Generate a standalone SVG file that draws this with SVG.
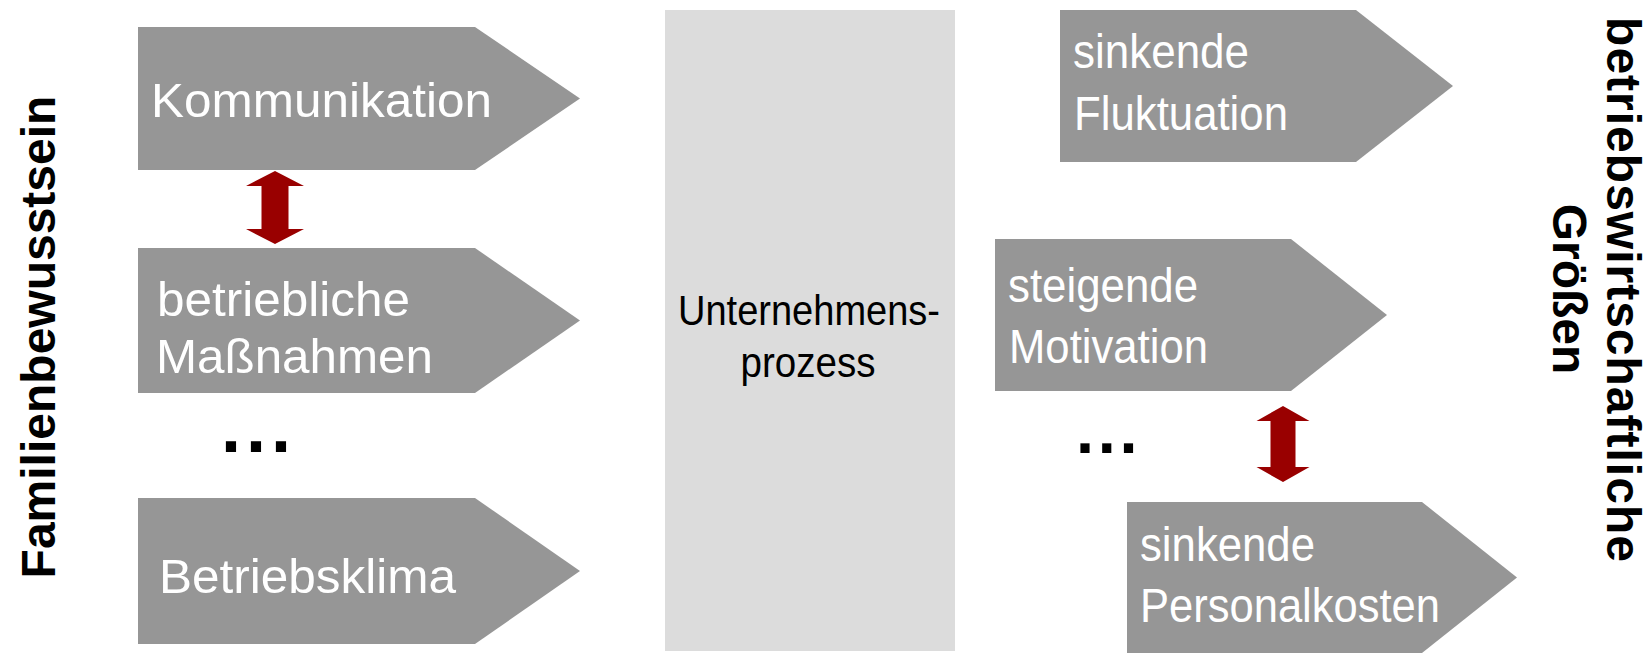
<svg xmlns="http://www.w3.org/2000/svg" width="1652" height="654" viewBox="0 0 1652 654">
<style>
.box{fill:#969696}
.lt{font-family:"Liberation Sans",Arial,sans-serif;font-size:48px;fill:#ffffff}
.rt{font-family:"Liberation Sans",Arial,sans-serif;font-size:49px;fill:#ffffff}
.ct{font-family:"Liberation Sans",Arial,sans-serif;font-size:42px;fill:#000000;text-anchor:middle}
.side{font-family:"Liberation Sans",Arial,sans-serif;font-size:48px;font-weight:bold;fill:#000000;text-anchor:middle}
.dots{font-family:"Liberation Sans",Arial,sans-serif;font-weight:bold;fill:#000000}
.arr{fill:#990000}
</style>
<rect width="1652" height="654" fill="#ffffff"/>
<g id="label-left">
<text class="side" transform="translate(55,337) rotate(-90)">Familienbewusstsein</text>
</g>
<g id="label-right">
<text class="side" transform="translate(1607,290) rotate(90)" letter-spacing="1">betriebswirtschaftliche</text>
<text class="side" transform="translate(1553,289) rotate(90)">Größen</text>
</g>
<g id="node-kommunikation">
<polygon class="box" points="138,27 475,27 580,98.5 475,170 138,170"/>
<text class="lt" x="151" y="117" textLength="341" lengthAdjust="spacingAndGlyphs">Kommunikation</text>
</g>
<g id="node-massnahmen">
<polygon class="box" points="138,248 475,248 580,320.5 475,393 138,393"/>
<text class="lt" x="157" y="316" textLength="253" lengthAdjust="spacingAndGlyphs">betriebliche</text>
<text class="lt" x="156" y="373" textLength="277" lengthAdjust="spacingAndGlyphs">Maßnahmen</text>
</g>
<g id="dots-left">
<text class="dots" x="221" y="452" font-size="72" letter-spacing="5">...</text>
</g>
<g id="node-betriebsklima">
<polygon class="box" points="138,498 475,498 580,571 475,644 138,644"/>
<text class="lt" x="159" y="593" textLength="297" lengthAdjust="spacingAndGlyphs">Betriebsklima</text>
</g>
<g id="node-prozess">
<rect x="665" y="10" width="290" height="641" fill="#dcdcdc"/>
<text class="ct" x="809" y="325" textLength="262" lengthAdjust="spacingAndGlyphs">Unternehmens-</text>
<text class="ct" x="808" y="377" textLength="135" lengthAdjust="spacingAndGlyphs">prozess</text>
</g>
<g id="node-fluktuation">
<polygon class="box" points="1060,10 1356,10 1453,86 1356,162 1060,162"/>
<text class="rt" x="1073" y="68" textLength="176" lengthAdjust="spacingAndGlyphs">sinkende</text>
<text class="rt" x="1074" y="130" textLength="214" lengthAdjust="spacingAndGlyphs">Fluktuation</text>
</g>
<g id="node-motivation">
<polygon class="box" points="995,239 1291,239 1387,315 1291,391 995,391"/>
<text class="rt" x="1008" y="302" textLength="190" lengthAdjust="spacingAndGlyphs">steigende</text>
<text class="rt" x="1009" y="363" textLength="199" lengthAdjust="spacingAndGlyphs">Motivation</text>
</g>
<g id="dots-right">
<text class="dots" x="1076" y="453" font-size="65" letter-spacing="3.7">...</text>
</g>
<g id="node-personalkosten">
<polygon class="box" points="1127,502 1422,502 1517,577.5 1422,653 1127,653"/>
<text class="rt" x="1140" y="561" textLength="175" lengthAdjust="spacingAndGlyphs">sinkende</text>
<text class="rt" x="1140" y="622" textLength="300" lengthAdjust="spacingAndGlyphs">Personalkosten</text>
</g>
<g id="connectors">
<polygon class="arr" points="275,171 304,186 288.5,186 288.5,229 304,229 275,244 246,229 261.5,229 261.5,186 246,186"/>
<polygon class="arr" points="1283,406 1309.5,421 1295.5,421 1295.5,467 1309.5,467 1283,482 1256.5,467 1270.5,467 1270.5,421 1256.5,421"/>
</g>
</svg>
